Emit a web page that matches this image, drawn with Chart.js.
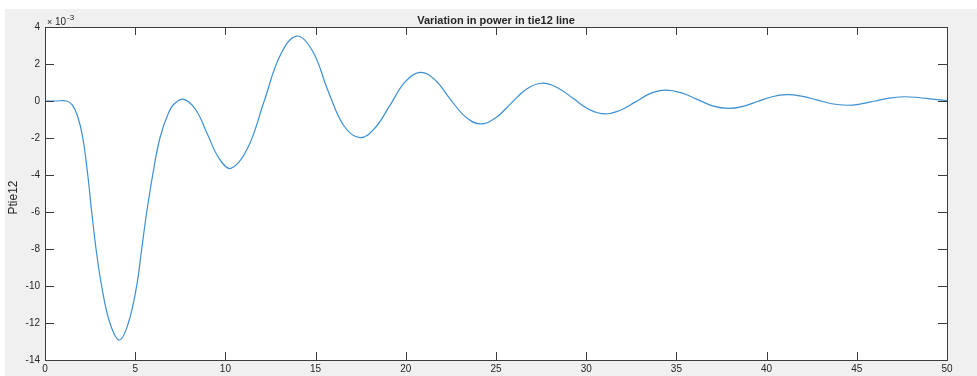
<!DOCTYPE html>
<html>
<head>
<meta charset="utf-8">
<script src="https://cdn.jsdelivr.net/npm/chart.js@4"></script>
<style>
  html, body { margin: 0; padding: 0; background: #fff; }
  canvas { display: block; }
</style>
</head>
<body>
<canvas id="grafica" width="977" height="376"></canvas>
<script>
// tiempo (s) y potencia en la linea tie12 (x 10^-3)
const tiempo = [0, 0.6, 1.2, 1.5, 1.8, 2.09, 2.37, 2.59, 2.83, 3.14, 3.6, 4.12, 4.62, 5.08, 5.36, 5.64, 5.97, 6.37, 6.84, 7.2, 7.7,
  8.35, 9.0, 9.65, 10.3, 11.21, 12.13, 13.04, 13.95, 14.83, 15.71, 16.58, 17.46, 18.29, 19.13, 19.96, 20.79,
  21.62, 22.45, 23.28, 24.11, 24.97, 25.82, 26.68, 27.53, 28.41, 29.29, 30.16, 31.04, 31.87, 32.71, 33.54, 34.37,
  35.25, 36.13, 37.0, 37.88, 38.69, 39.5, 40.3, 41.11, 41.94, 42.78, 43.61, 44.44, 45.23, 46.01, 46.8, 47.58, 48.4, 49.2, 50];
const ptie12 = [0, 0, 0, -0.2, -0.8, -1.96, -4, -6, -8, -10, -12, -12.92, -12, -10, -8, -6, -4, -2, -0.66, -0.12, 0.09,
  -0.46, -1.78, -3.1, -3.64, -2.6, -0.07, 2.47, 3.51, 2.7, 0.5, -1.35, -1.98, -1.46, -0.22, 1.03, 1.55,
  1.14, 0.12, -0.83, -1.24, -0.92, -0.14, 0.64, 0.96, 0.72, 0.13, -0.46, -0.7, -0.51, -0.06, 0.4, 0.59,
  0.45, 0.1, -0.26, -0.4, -0.29, -0.03, 0.23, 0.34, 0.26, 0.06, -0.15, -0.23, -0.16, 0, 0.16, 0.23, 0.19, 0.1, 0.02];

const xTicks = [0, 5, 10, 15, 20, 25, 30, 35, 40, 45, 50];
const yTicks = [-14, -12, -10, -8, -6, -4, -2, 0, 2, 4];

const titulo = 'Variation in power in tie12 line';
const etiquetaY = 'Ptie12';

const fuente = '"Liberation Sans", Arial, Helvetica, sans-serif';
const colorTexto = '#262626';

const puntos = tiempo.map((t, i) => ({ x: t, y: ptie12[i] }));

const estiloMatlab = {
  id: 'estiloMatlab',
  beforeDraw(chart) {
    const { ctx, chartArea: a, width, height } = chart;
    ctx.save();
    ctx.fillStyle = '#ffffff';
    ctx.fillRect(0, 0, width, height);
    ctx.fillStyle = '#f0f0f0';
    ctx.fillRect(5, 9, width - 5, height - 9);
    ctx.fillStyle = '#ffffff';
    ctx.fillRect(a.left, a.top, a.right - a.left, a.bottom - a.top);
    ctx.restore();
  },
  afterDatasetsDraw(chart) {
    const { ctx, chartArea: a, scales } = chart;
    ctx.save();
    ctx.strokeStyle = '#3c3c3c';
    ctx.lineWidth = 1;
    ctx.beginPath();
    xTicks.forEach(v => {
      const px = Math.round(scales.x.getPixelForValue(v)) + 0.5;
      ctx.moveTo(px, a.bottom); ctx.lineTo(px, a.bottom - 8);
      ctx.moveTo(px, a.top); ctx.lineTo(px, a.top + 8);
    });
    yTicks.forEach(v => {
      const py = Math.round(scales.y.getPixelForValue(v)) + 0.5;
      ctx.moveTo(a.left, py); ctx.lineTo(a.left + 9, py);
      ctx.moveTo(a.right, py); ctx.lineTo(a.right - 9, py);
    });
    ctx.stroke();
    ctx.strokeRect(Math.round(a.left) + 0.5, Math.round(a.top) + 0.5,
      Math.round(a.right - a.left), Math.round(a.bottom - a.top));
    ctx.restore();
  },
  afterDraw(chart) {
    const { ctx, chartArea: a } = chart;
    ctx.save();
    ctx.fillStyle = colorTexto;
    // titulo
    ctx.font = 'bold 11px ' + fuente;
    ctx.textAlign = 'center';
    ctx.textBaseline = 'alphabetic';
    ctx.fillText(titulo, (a.left + a.right) / 2, a.top - 3);
    // multiplicador x10^-3
    ctx.textAlign = 'left';
    ctx.font = '9px ' + fuente;
    ctx.fillText('\u00d7', a.left + 2, a.top - 2);
    ctx.font = '10px ' + fuente;
    ctx.fillText('10', a.left + 10, a.top - 2);
    ctx.font = '8px ' + fuente;
    ctx.fillText('-3', a.left + 22, a.top - 7);
    // etiqueta eje y
    ctx.font = '12px ' + fuente;
    ctx.translate(14, (a.top + a.bottom) / 2 + 4);
    ctx.rotate(-Math.PI / 2);
    ctx.textAlign = 'center';
    ctx.textBaseline = 'middle';
    ctx.fillText(etiquetaY, 0, 0);
    ctx.restore();
  }
};

new Chart(document.getElementById('grafica').getContext('2d'), {
  type: 'line',
  data: {
    datasets: [{
      data: puntos,
      borderColor: '#3b8fd2',
      borderWidth: 1.2,
      pointRadius: 0,
      fill: false,
      tension: 0.4
    }]
  },
  options: {
    responsive: false,
    animation: false,
    devicePixelRatio: 1,
    layout: { padding: { left: 0, right: 30, top: 27, bottom: 0 } },
    plugins: {
      legend: { display: false },
      title: { display: false },
      tooltip: { enabled: false }
    },
    scales: {
      x: {
        type: 'linear',
        min: 0,
        max: 50,
        grid: { display: false, drawTicks: false },
        border: { display: false },
        afterBuildTicks: s => { s.ticks = xTicks.map(v => ({ value: v })); },
        afterFit: s => { s.height = 16; },
        ticks: { padding: 3, maxRotation: 0, color: colorTexto, font: { size: 10, family: fuente } }
      },
      y: {
        min: -14,
        max: 4,
        grid: { display: false, drawTicks: false },
        border: { display: false },
        afterBuildTicks: s => { s.ticks = yTicks.map(v => ({ value: v })); },
        afterFit: s => { s.width = 45; },
        ticks: { padding: 5, color: colorTexto, font: { size: 10, family: fuente } }
      }
    }
  },
  plugins: [estiloMatlab]
});
</script>
</body>
</html>
